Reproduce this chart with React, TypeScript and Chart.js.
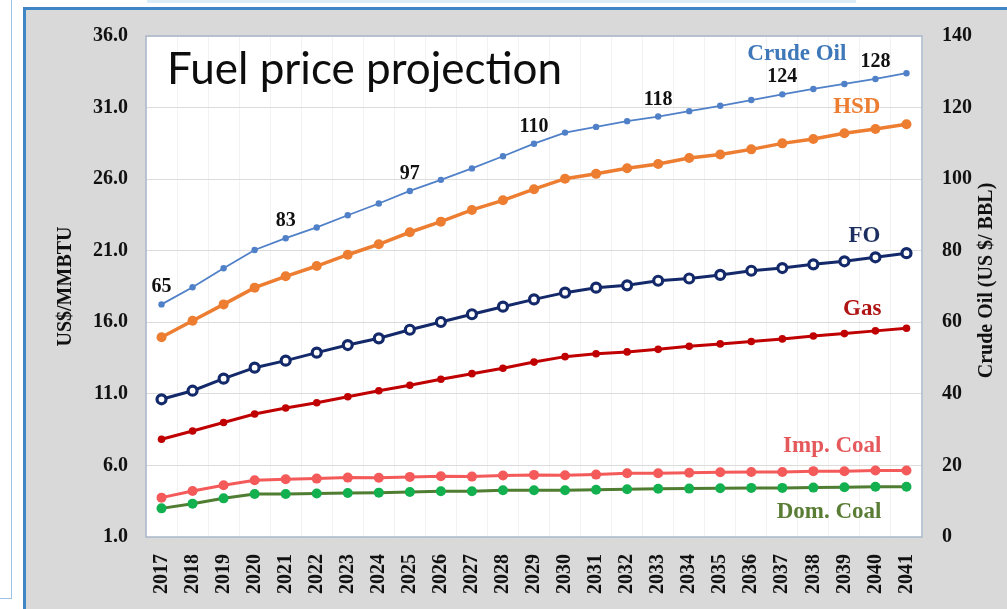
import React, { useEffect, useRef } from "react";
import { Chart, registerables } from "chart.js";

Chart.register(...registerables);

const years = [
  "2017", "2018", "2019", "2020", "2021", "2022", "2023", "2024", "2025",
  "2026", "2027", "2028", "2029", "2030", "2031", "2032", "2033", "2034",
  "2035", "2036", "2037", "2038", "2039", "2040", "2041",
];

// Crude oil, US$/BBL (right axis)
const crudeOil = [
  65, 69.8, 75.1, 80.2, 83.5, 86.5, 89.9, 93.2, 96.7, 99.8, 103.0, 106.4,
  109.9, 113.0, 114.6, 116.2, 117.5, 119.0, 120.5, 122.1, 123.7, 125.2, 126.6,
  128.0, 129.6,
];
// US$/MMBTU (left axis)
const hsd = [
  14.95, 16.11, 17.25, 18.42, 19.21, 19.93, 20.72, 21.45, 22.29, 23.03, 23.85,
  24.52, 25.3, 26.03, 26.37, 26.76, 27.06, 27.48, 27.72, 28.08, 28.5, 28.8,
  29.2, 29.5, 29.83,
];
const fo = [
  10.62, 11.22, 12.06, 12.83, 13.32, 13.88, 14.41, 14.88, 15.48, 16.02, 16.56,
  17.09, 17.6, 18.07, 18.42, 18.58, 18.9, 19.06, 19.31, 19.6, 19.79, 20.05,
  20.26, 20.54, 20.83,
];
const gas = [
  7.83, 8.41, 9.0, 9.59, 10.01, 10.38, 10.8, 11.22, 11.6, 12.02, 12.41, 12.79,
  13.22, 13.6, 13.8, 13.93, 14.11, 14.33, 14.49, 14.66, 14.84, 15.04, 15.21,
  15.4, 15.58,
];
const impCoal = [
  3.75, 4.21, 4.61, 4.96, 5.03, 5.08, 5.15, 5.14, 5.2, 5.25, 5.22, 5.3, 5.34,
  5.31, 5.36, 5.45, 5.45, 5.49, 5.52, 5.54, 5.54, 5.6, 5.59, 5.65, 5.64,
];
const domCoal = [
  3.0, 3.33, 3.7, 4.0, 4.0, 4.04, 4.07, 4.1, 4.14, 4.19, 4.19, 4.26, 4.26,
  4.26, 4.3, 4.34, 4.37, 4.38, 4.41, 4.43, 4.43, 4.45, 4.48, 4.51, 4.51,
];

// Crude oil value call-outs
const crudeLabelIdx = [0, 4, 8, 12, 16, 20, 23];
const crudeLabelText = ["65", "83", "97", "110", "118", "124", "128"];

const leftTicks = { min: 1, max: 36, step: 5 };
const rightTicks = { min: 0, max: 140, step: 20 };

const chartTitle = "Fuel price projection";
const leftAxisTitle = "US$/MMBTU";
const rightAxisTitle = "Crude Oil (US $/ BBL)";

// series name annotations: anchored to a category index and a left-axis value (baseline)
const seriesNames = [
  { text: "Crude Oil", color: "#3f78b8", idx: 22, dx: 2, val: 34.32 },
  { text: "HSD", color: "#ed7d31", idx: 23, dx: 5, val: 30.62 },
  { text: "FO", color: "#1c2f5e", idx: 23, dx: 5, val: 21.61 },
  { text: "Gas", color: "#b01515", idx: 23, dx: 6, val: 16.51 },
  { text: "Imp. Coal", color: "#e5585b", idx: 23, dx: 6, val: 6.96 },
  { text: "Dom. Coal", color: "#5a7d35", idx: 23, dx: 6, val: 2.33 },
];

const SERIF = '"Liberation Serif", "Times New Roman", serif';

const decorPlugin = {
  id: "decor",
  beforeDraw(chart: any) {
    const { ctx, chartArea } = chart;
    const { left, top, right, bottom } = chartArea;
    ctx.save();
    ctx.fillStyle = "#ffffff";
    ctx.fillRect(left, top, right - left, bottom - top);
    ctx.restore();
  },
  beforeDatasetsDraw(chart: any) {
    const { ctx, chartArea } = chart;
    const { left, top, right, bottom } = chartArea;
    ctx.save();
    ctx.strokeStyle = "#a9b7c9";
    ctx.lineWidth = 1.5;
    ctx.strokeRect(left, top, right - left, bottom - top);
    ctx.restore();
  },
  afterDatasetsDraw(chart: any) {
    const { ctx, chartArea } = chart;
    const xs = chart.scales.x;
    const ys = chart.scales.y;
    const y1 = chart.scales.y1;
    ctx.save();
    // chart title inside plot
    ctx.fillStyle = "#0d0d0d";
    ctx.font = '44px Lato, "Open Sans", sans-serif';
    ctx.textAlign = "left";
    ctx.textBaseline = "alphabetic";
    ctx.fillText(chartTitle, chartArea.left + 21, chartArea.top + 48);

    // series names
    ctx.font = `bold 23px ${SERIF}`;
    ctx.textAlign = "right";
    seriesNames.forEach((s) => {
      ctx.fillStyle = s.color;
      ctx.fillText(s.text, xs.getPixelForValue(s.idx) + s.dx, ys.getPixelForValue(s.val));
    });

    // crude oil value labels
    ctx.font = `bold 20px ${SERIF}`;
    ctx.textAlign = "center";
    ctx.fillStyle = "#111111";
    crudeLabelIdx.forEach((i, k) => {
      const px = xs.getPixelForValue(i);
      const py = y1.getPixelForValue(crudeOil[i]);
      ctx.fillText(crudeLabelText[k], px, py - 12);
    });

    // right axis title, reading bottom-to-top
    ctx.font = `bold 20px ${SERIF}`;
    ctx.textAlign = "center";
    ctx.textBaseline = "middle";
    ctx.fillStyle = "#111111";
    ctx.translate(y1.right - 20, (chartArea.top + chartArea.bottom) / 2 - 6);
    ctx.rotate(-Math.PI / 2);
    ctx.fillText(rightAxisTitle, 0, 0);
    ctx.restore();
  },
};

export default function App() {
  const canvasRef = useRef<HTMLCanvasElement | null>(null);

  useEffect(() => {
    if (!canvasRef.current) return;
    const tickFont = { family: SERIF, weight: "bold" as const, size: 20 };
    const chart = new Chart(canvasRef.current, {
      type: "line",
      data: {
        labels: years,
        datasets: [
          {
            label: "Crude Oil",
            data: crudeOil,
            yAxisID: "y1",
            borderColor: "#5080c8",
            backgroundColor: "#5080c8",
            borderWidth: 1.8,
            pointRadius: 3.2,
            pointBorderWidth: 0,
          },
          {
            label: "HSD",
            data: hsd,
            yAxisID: "y",
            borderColor: "#ed7d31",
            backgroundColor: "#ed7d31",
            borderWidth: 3.5,
            pointRadius: 5,
            pointBorderWidth: 0,
          },
          {
            label: "FO",
            data: fo,
            yAxisID: "y",
            borderColor: "#13296a",
            backgroundColor: "#ffffff",
            pointBackgroundColor: "#ffffff",
            pointBorderColor: "#13296a",
            borderWidth: 3,
            pointRadius: 4.5,
            pointBorderWidth: 3.2,
          },
          {
            label: "Gas",
            data: gas,
            yAxisID: "y",
            borderColor: "#c00000",
            backgroundColor: "#c00000",
            borderWidth: 3,
            pointRadius: 3.8,
            pointBorderWidth: 0,
          },
          {
            label: "Imp. Coal",
            data: impCoal,
            yAxisID: "y",
            borderColor: "#f45a5a",
            backgroundColor: "#f45a5a",
            borderWidth: 3,
            pointRadius: 5,
            pointBorderWidth: 0,
          },
          {
            label: "Dom. Coal",
            data: domCoal,
            yAxisID: "y",
            borderColor: "#4f7d32",
            backgroundColor: "#12b04f",
            pointBackgroundColor: "#12b04f",
            borderWidth: 3,
            pointRadius: 5,
            pointBorderWidth: 0,
          },
        ],
      },
      options: {
        responsive: false,
        animation: false,
        events: [],
        layout: { padding: { top: 36, left: 0, right: 0, bottom: 0 } },
        plugins: {
          legend: { display: false },
          tooltip: { enabled: false },
          title: { display: false },
        },
        elements: { line: { tension: 0 } },
        scales: {
          x: {
            type: "category",
            offset: true,
            grid: { color: "#f2f2f2", drawTicks: false, offset: true },
            border: { display: false },
            ticks: {
              autoSkip: false,
              minRotation: 90,
              maxRotation: 90,
              padding: 17,
              color: "#111111",
              font: tickFont,
            },
            afterFit: (s: any) => {
              s.height = 72;
            },
          },
          y: {
            position: "left",
            min: leftTicks.min,
            max: leftTicks.max,
            grid: { color: "#dcdcdc", drawTicks: false },
            border: { display: false },
            ticks: {
              stepSize: leftTicks.step,
              padding: 18,
              color: "#111111",
              font: tickFont,
              callback: (v: any) => Number(v).toFixed(1),
            },
            title: {
              display: true,
              text: leftAxisTitle,
              color: "#111111",
              font: { family: SERIF, weight: "bold", size: 20 },
              padding: { top: 54, bottom: 0 },
            },
            afterFit: (s: any) => {
              s.width = 146;
            },
          },
          y1: {
            position: "right",
            min: rightTicks.min,
            max: rightTicks.max,
            grid: { drawOnChartArea: false, drawTicks: false },
            border: { display: false },
            ticks: {
              stepSize: rightTicks.step,
              padding: 20,
              color: "#111111",
              font: tickFont,
            },
            afterFit: (s: any) => {
              s.width = 85;
            },
          },
        },
      },
      plugins: [decorPlugin],
    });
    return () => chart.destroy();
  }, []);

  return (
    <div
      style={{
        position: "fixed",
        left: 0,
        top: 0,
        width: 1007,
        height: 609,
        background: "#ffffff",
        overflow: "hidden",
      }}
    >
      <div
        style={{
          position: "absolute",
          left: 0,
          top: 0,
          width: 11,
          height: 598,
          borderRight: "1.5px solid #9cc3e5",
          borderBottom: "1.5px solid #9cc3e5",
        }}
      />
      <div
        style={{
          position: "absolute",
          left: 147,
          top: 0,
          width: 709,
          height: 3,
          background: "#dcecf7",
        }}
      />
      <div
        style={{
          position: "absolute",
          left: 23,
          top: 7,
          right: 0,
          bottom: 0,
          background: "#d9d9d9",
          borderLeft: "3px solid #3f86c6",
          borderTop: "3px solid #3f86c6",
        }}
      />
      <canvas
        ref={canvasRef}
        width={1007}
        height={609}
        style={{ position: "absolute", left: 0, top: 0, width: 1007, height: 609 }}
      />
    </div>
  );
}
